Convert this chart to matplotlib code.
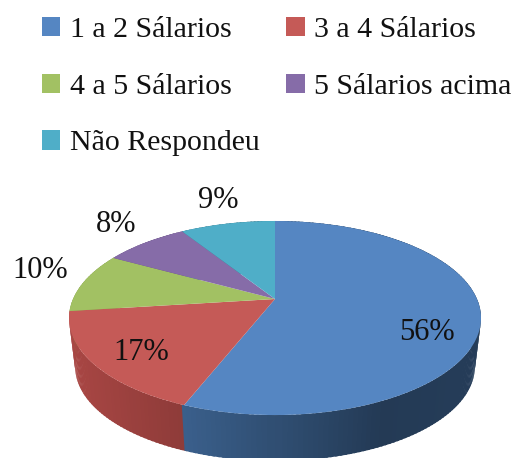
import numpy as np
import matplotlib
matplotlib.use("Agg")
import matplotlib.pyplot as plt
from matplotlib.transforms import Transform

categories = ["1 a 2 Sálarios", "3 a 4 Sálarios", "4 a 5 Sálarios", "5 Sálarios acima", "Não Respondeu"]
values = [56, 17, 10, 8, 9]
colors = ["#5586C2", "#C55A57", "#A2C163", "#866CA8", "#4FAEC8"]
wall_colors = ["#4F81BD", "#C0504D", "#9BBB59", "#8064A2", "#4BACC6"]
label_pos = [(427, 333), (141, 352), (40, 271), (116, 225), (218, 200)]

# perspective model of the pie disc, in pixels
APEX_X, APEX_Y = 275.0, 299.0
A, B, K = 202.0, 93.3, 0.196
BOTTOM_SCALE, BOTTOM_DY = 0.97, 49.4


def project(c, s, scale=1.0, dy=0.0):
    d = 1 + K * s
    return APEX_X + scale * A * c / d, APEX_Y + dy - scale * B * s / d


class Perspective(Transform):
    input_dims = output_dims = 2
    is_separable = False
    has_inverse = False

    def transform_non_affine(self, xy):
        xy = np.asarray(xy, float)
        x, y = project(xy[:, 0], xy[:, 1])
        return np.column_stack([x, y])


plt.rcParams["font.family"] = ["Liberation Serif", "DejaVu Serif"]
fig = plt.figure(figsize=(5.16, 4.58), dpi=100)
ax = fig.add_axes([0, 0, 1, 1])

wedges, _ = ax.pie(values, colors=colors, startangle=90, counterclock=False,
                   radius=1, wedgeprops={"linewidth": 0})
ax.set_aspect("auto")
ax.set_xlim(0, 516)
ax.set_ylim(458, 0)
proj = Perspective() + ax.transData
for w in wedges:
    w.set_transform(proj)
    w.set_zorder(5)

# side wall, drawn back to front; each strip runs on under the next one
frac = np.cumsum([0] + values) / sum(values)
segs = []
for i in range(len(values)):
    n = max(2, int(values[i] * 3))
    t = np.radians(90 - 360 * np.linspace(frac[i], frac[i + 1], n + 1))
    for a, b in zip(t[:-1], t[1:]):
        segs.append((np.sin((a + b) / 2), i, a, b, b - a))
segs.sort(key=lambda r: -r[0])
for _, i, a, b, step in segs:
    tt = np.array([a + step * 0.6 * np.sign(np.cos((a + b) / 2)), b - step * 0.6 * np.sign(np.cos((a + b) / 2))])
    tt = np.array([min(tt), max(tt)])
    # keep the wall colour boundaries sharp: extend only towards the back of the pie
    lo, hi = (a, b) if a < b else (b, a)
    mid = (lo + hi) / 2
    if np.cos(mid) < 0:
        tt = np.array([lo, hi + 0.5 * abs(step)]) if np.sin(hi) > np.sin(lo) else np.array([lo - 0.5 * abs(step), hi])
    else:
        tt = np.array([lo, hi + 0.5 * abs(step)]) if np.sin(hi) > np.sin(lo) else np.array([lo - 0.5 * abs(step), hi])
    xt, yt = project(np.cos(tt), np.sin(tt))
    xb, yb = project(np.cos(tt), np.sin(tt), BOTTOM_SCALE, BOTTOM_DY)
    xm = project(np.cos(mid), np.sin(mid))[0]
    shade = np.interp(xm, [69, 185, 380, 481], [0.88, 0.74, 0.45, 0.47])
    col = np.array(matplotlib.colors.to_rgb(wall_colors[i])) * shade
    ax.fill(np.r_[xt, xb[::-1]], np.r_[yt, yb[::-1]], facecolor=col, edgecolor="none", zorder=2)

for v, (x, y) in zip(values, label_pos):
    ax.text(x, y, f"{v}%", ha="center", va="center", fontsize=22, color="#111111", zorder=6)

order = [0, 2, 4, 1, 3]
leg = ax.legend([wedges[i] for i in order], [categories[i] for i in order],
                ncol=2, loc="upper left", bbox_to_anchor=(36 / 516, 1 - 11 / 458),
                frameon=False, fontsize=21.5, handlelength=0.62, handleheight=0.62,
                handletextpad=0.33, labelspacing=1.02, columnspacing=0.87,
                borderpad=0.2, borderaxespad=0)
for t in leg.get_texts():
    t.set_color("#111111")
leg.set_zorder(7)

fig.savefig("out.png", dpi=100)
